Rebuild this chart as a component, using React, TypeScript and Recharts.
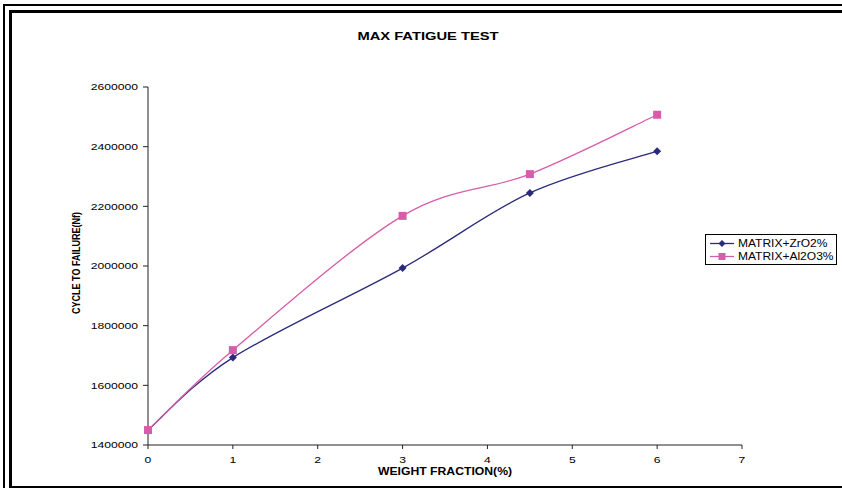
import React from 'react';
import { LineChart, Line, XAxis, YAxis } from 'recharts';

const weightFractions = [0, 1, 3, 4.5, 6];
const zro2Cycles = [1450000, 1693000, 1993000, 2245000, 2385000];
const al2o3Cycles = [1450000, 1718000, 2168000, 2308000, 2507000];
const seriesNames = ['MATRIX+ZrO2%', 'MATRIX+Al2O3%'];
const xTicks = [0, 1, 2, 3, 4, 5, 6, 7];
const yTicks = [1400000, 1600000, 1800000, 2000000, 2200000, 2400000, 2600000];

const NAVY = '#2B2B7B';
const PINK = '#D75CA9';
const FONT = 'Arial, "Liberation Sans", sans-serif';
// the source picture is stretched sideways, so text is drawn a bit wider
const SX = 1.28;

const data = weightFractions.map((w, i) => ({
  w,
  zro2: zro2Cycles[i],
  al2o3: al2o3Cycles[i],
}));

// Excel-style smoothed line (Catmull-Rom through every point)
function excelSmooth(context: any) {
  let pts: number[][] = [];
  return {
    areaStart() {},
    areaEnd() {},
    lineStart() {
      pts = [];
    },
    point(x: number, y: number) {
      pts.push([+x, +y]);
    },
    lineEnd() {
      const n = pts.length;
      if (!n) return;
      context.moveTo(pts[0][0], pts[0][1]);
      for (let i = 0; i < n - 1; i++) {
        const p0 = pts[Math.max(i - 1, 0)];
        const p1 = pts[i];
        const p2 = pts[i + 1];
        const p3 = pts[Math.min(i + 2, n - 1)];
        context.bezierCurveTo(
          p1[0] + (p2[0] - p0[0]) / 6,
          p1[1] + (p2[1] - p0[1]) / 6,
          p2[0] - (p3[0] - p1[0]) / 6,
          p2[1] - (p3[1] - p1[1]) / 6,
          p2[0],
          p2[1]
        );
      }
    },
  };
}

const Diamond = ({ cx, cy, size = 4, color = NAVY }: any) => (
  <path
    d={`M${cx},${cy - size} L${cx + size},${cy} L${cx},${cy + size} L${cx - size},${cy} Z`}
    fill={color}
  />
);

const Square = ({ cx, cy, size = 4, color = PINK }: any) => (
  <rect x={cx - size} y={cy - size} width={size * 2} height={size * 2} fill={color} />
);

const XTick = ({ x, y, payload }: any) => (
  <g transform={`translate(${x},${y})`}>
    <text transform={`scale(${SX},1)`} textAnchor="middle" dy="0.71em" fontSize={9.5} fontFamily={FONT} fill="#000">
      {payload.value}
    </text>
  </g>
);

const YTick = ({ x, y, payload }: any) => (
  <g transform={`translate(${x},${y})`}>
    <text transform={`scale(${SX},1)`} textAnchor="end" dy="0.355em" fontSize={9.5} fontFamily={FONT} fill="#000">
      {payload.value}
    </text>
  </g>
);

function LegendBox() {
  const rows = [
    { name: seriesNames[0], color: NAVY, Marker: Diamond },
    { name: seriesNames[1], color: PINK, Marker: Square },
  ];
  return (
    <div
      style={{
        position: 'absolute',
        left: 705,
        top: 234,
        width: 130,
        height: 29,
        border: '1px solid #000',
        background: '#fff',
        fontFamily: FONT,
        fontSize: 10,
        color: '#000',
      }}
    >
      {rows.map((r, i) => (
        <div
          key={r.name}
          style={{ position: 'absolute', left: 4, top: 2 + i * 13, height: 13, display: 'flex', alignItems: 'center' }}
        >
          <svg width={26} height={13}>
            <line x1={0} y1={6.5} x2={24} y2={6.5} stroke={r.color} strokeWidth={1.3} />
            <r.Marker cx={12} cy={6.5} size={3.5} color={r.color} />
          </svg>
          <span
            style={{
              marginLeft: 2,
              whiteSpace: 'nowrap',
              display: 'inline-block',
              transform: 'scale(1.2,1)',
              transformOrigin: '0 50%',
            }}
          >
            {r.name}
          </span>
        </div>
      ))}
    </div>
  );
}

export default function App() {
  return (
    <div
      style={{
        position: 'absolute',
        left: 0,
        top: 0,
        width: 842,
        height: 488,
        background: '#fff',
        overflow: 'hidden',
        fontFamily: FONT,
      }}
    >
      {/* double frame */}
      <div style={{ position: 'absolute', left: 3, top: 4, width: 900, height: 600, borderLeft: '2px solid #000', borderTop: '2px solid #000' }} />
      <div
        style={{
          position: 'absolute',
          left: 9,
          top: 10,
          width: 900,
          height: 473,
          borderLeft: '3px solid #000',
          borderTop: '3px solid #000',
          borderBottom: '3px solid #000',
        }}
      />

      <LineChart
        width={842}
        height={488}
        data={data}
        margin={{ top: 87, right: 100, bottom: 13, left: 68 }}
        style={{ position: 'absolute', left: 0, top: 0 }}
      >
        <XAxis
          dataKey="w"
          type="number"
          domain={[0, 7]}
          ticks={xTicks}
          height={30}
          stroke="#222"
          tickSize={4}
          tickMargin={7}
          tick={<XTick />}
        />
        <YAxis
          type="number"
          domain={[1400000, 2600000]}
          ticks={yTicks}
          width={80}
          stroke="#222"
          tickSize={5}
          tickMargin={5}
          tick={<YTick />}
        />
        <Line
          dataKey="zro2"
          name={seriesNames[0]}
          type={excelSmooth as any}
          stroke={NAVY}
          strokeWidth={1.3}
          dot={(p: any) => <Diamond key={`z${p.index}`} cx={p.cx} cy={p.cy} />}
          activeDot={false}
          isAnimationActive={false}
        />
        <Line
          dataKey="al2o3"
          name={seriesNames[1]}
          type={excelSmooth as any}
          stroke={PINK}
          strokeWidth={1.3}
          dot={(p: any) => <Square key={`a${p.index}`} cx={p.cx} cy={p.cy} />}
          activeDot={false}
          isAnimationActive={false}
        />
      </LineChart>

      <div
        style={{
          position: 'absolute',
          left: 328,
          width: 200,
          top: 29,
          lineHeight: '14px',
          textAlign: 'center',
          fontWeight: 'bold',
          fontSize: 11.5,
          color: '#000',
          transform: `scale(${SX},1)`,
        }}
      >
        MAX FATIGUE TEST
      </div>
      <div
        style={{
          position: 'absolute',
          left: 345,
          width: 200,
          top: 466,
          lineHeight: '12px',
          textAlign: 'center',
          fontWeight: 'bold',
          fontSize: 10,
          color: '#000',
          transform: 'scale(1.22,1)',
        }}
      >
        WEIGHT FRACTION(%)
      </div>
      <div
        style={{
          position: 'absolute',
          left: 77 - 100,
          width: 200,
          top: 263 - 6,
          height: 12,
          lineHeight: '12px',
          textAlign: 'center',
          fontWeight: 'bold',
          fontSize: 9,
          color: '#000',
          transform: `rotate(-90deg) scale(1,1.15)`,
          transformOrigin: '100px 6px',
        }}
      >
        CYCLE TO FAILURE(Nf)
      </div>

      <LegendBox />
    </div>
  );
}
